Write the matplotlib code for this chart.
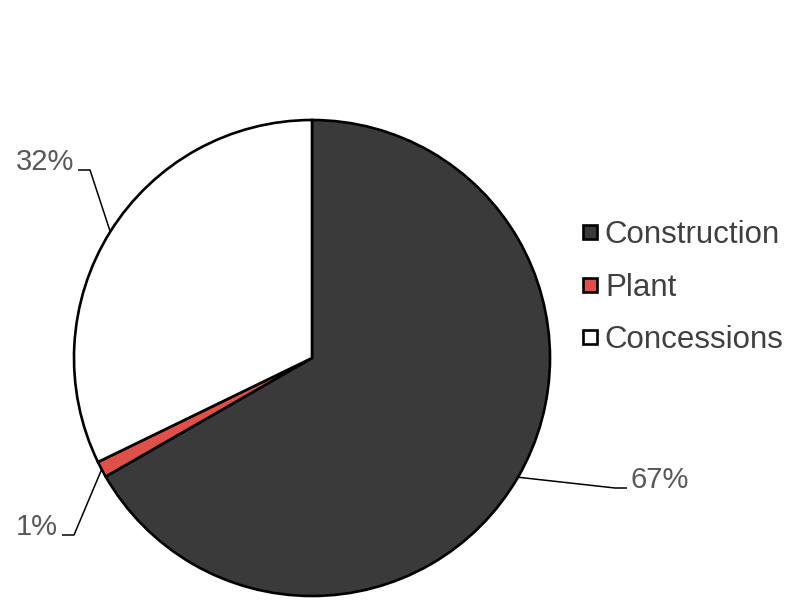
import numpy as np
import matplotlib.pyplot as plt
from matplotlib.lines import Line2D

plt.rcParams['font.family'] = ['Liberation Sans', 'DejaVu Sans']

labels = ["Construction", "Plant", "Concessions"]
shares = [66.7, 1.1, 32.2]
colors = ["#3a3a3a", "#e0504a", "#ffffff"]

# leader line elbows (pixels in figure), one per slice
elbows = [(615, 488), (74, 535), (90, 170)]
ends = [(627, 488), (62, 535), (78, 170)]

W, H = 792, 600
cx, cy, R = 312, 358, 238

fig = plt.figure(figsize=(W / 100, H / 100), dpi=100)
ax = fig.add_axes([(cx - R) / W, (H - cy - R) / H, 2 * R / W, 2 * R / H])
wedges, _ = ax.pie(shares, colors=colors, startangle=90, counterclock=False,
                   wedgeprops=dict(edgecolor="black", linewidth=1.9))
ax.set_xlim(-1, 1)
ax.set_ylim(-1, 1)
ax.set_aspect("equal")
ax.axis("off")


def px(p):
    return ((p[0] - cx) / R, (cy - p[1]) / R)


for w, v, e, t in zip(wedges, shares, elbows, ends):
    mid = np.deg2rad((w.theta1 + w.theta2) / 2)
    start = (np.cos(mid), np.sin(mid))
    ex, ey = px(e)
    tx, ty = px(t)
    ax.plot([start[0], ex, tx], [start[1], ey, ty], color="black", lw=1.1,
            clip_on=False, solid_capstyle="butt")
    ha = "left" if tx > ex else "right"
    off = 4 / R if ha == "left" else -4 / R
    ax.text(tx + off, ty + 8 / R, f"{round(v):d}%", ha=ha, va="center",
            fontsize=21, color="#595959")

handles = [Line2D([], [], linestyle="none", marker="s", markersize=9.5,
                  markerfacecolor=c, markeredgecolor="black", markeredgewidth=1.9)
           for c in colors]
fig.legend(handles, labels, loc="upper left", bbox_to_anchor=(583 / W, 1 - 220 / H),
           frameon=False, fontsize=22.5, labelcolor="#404040",
           handlelength=0.45, handletextpad=0.25,
           labelspacing=0.72, borderpad=0, borderaxespad=0)

fig.savefig("out.png", dpi=100)
